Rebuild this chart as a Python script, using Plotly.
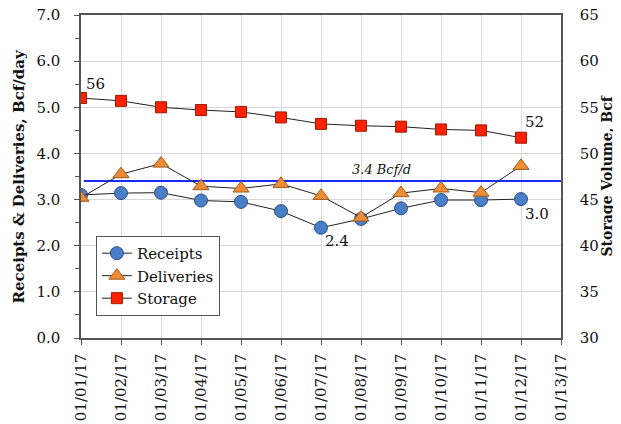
import plotly.graph_objects as go

x_labels = ["01/01/17", "01/02/17", "01/03/17", "01/04/17", "01/05/17", "01/06/17",
            "01/07/17", "01/08/17", "01/09/17", "01/10/17", "01/11/17", "01/12/17", "01/13/17"]
x_pos = list(range(1, 14))
x_data = x_pos[:12]

receipts = [3.10, 3.14, 3.15, 2.98, 2.95, 2.75, 2.39, 2.58, 2.81, 2.99, 2.99, 3.01]
deliveries = [3.04, 3.55, 3.78, 3.29, 3.24, 3.34, 3.08, 2.61, 3.14, 3.24, 3.15, 3.73]
storage = [56.0, 55.7, 55.0, 54.7, 54.5, 53.9, 53.2, 53.0, 52.9, 52.6, 52.5, 51.7]
avg_line = 3.4

FONT = "DejaVu Serif"

fig = go.Figure()

fig.add_trace(go.Scatter(
    x=[1.07, x_pos[-1]], y=[avg_line, avg_line], mode="lines",
    line=dict(color="#1a2bff", width=2), showlegend=False, hoverinfo="skip"))

fig.add_trace(go.Scatter(
    x=x_data, y=receipts, name="Receipts", mode="lines+markers",
    line=dict(color="#222222", width=1),
    marker=dict(symbol="circle", size=13, color="#4a7ec9",
                line=dict(color="#2c4f86", width=1))))

fig.add_trace(go.Scatter(
    x=x_data, y=deliveries, name="Deliveries", mode="lines+markers",
    line=dict(color="#222222", width=1),
    marker=dict(symbol="triangle-up", size=14, color="#f08c35",
                line=dict(color="#9a5a1c", width=1))))

fig.add_trace(go.Scatter(
    x=x_data, y=storage, name="Storage", mode="lines+markers", yaxis="y2",
    line=dict(color="#222222", width=1),
    marker=dict(symbol="square", size=11, color="#ff2200",
                line=dict(color="#9a1a00", width=1))))

ann_font = dict(family=FONT, size=15, color="#111111")
annotations = [
    dict(x=x_data[0], y=storage[0], xref="x", yref="y2", text=f"{storage[0]:.0f}",
         showarrow=False, xanchor="left", yanchor="bottom", xshift=3, yshift=3, font=ann_font),
    dict(x=x_data[-1], y=storage[-1], xref="x", yref="y2", text=f"{storage[-1]:.0f}",
         showarrow=False, xanchor="left", yanchor="bottom", xshift=2, yshift=5, font=ann_font),
    dict(x=x_data[6], y=receipts[6], xref="x", yref="y", text=f"{receipts[6]:.1f}",
         showarrow=False, xanchor="left", yanchor="top", xshift=2, yshift=-2, font=ann_font),
    dict(x=x_data[-1], y=receipts[-1], xref="x", yref="y", text=f"{receipts[-1]:.1f}",
         showarrow=False, xanchor="left", yanchor="top", xshift=2, yshift=-4, font=ann_font),
    dict(x=8.5, y=avg_line, xref="x", yref="y", text=f"<i>{avg_line} Bcf/d</i>",
         showarrow=False, xanchor="center", yanchor="bottom", yshift=2,
         font=dict(family=FONT, size=13, color="#111111")),
    dict(x=0, y=0.5, xref="paper", yref="paper", text="<b>Receipts & Deliveries, Bcf/day</b>",
         textangle=-90, showarrow=False, xanchor="center", yanchor="middle", xshift=-63,
         font=dict(family=FONT, size=15, color="#111111")),
    dict(x=1, y=0.5, xref="paper", yref="paper", text="<b>Storage Volume, Bcf</b>",
         textangle=-90, showarrow=False, xanchor="center", yanchor="middle", xshift=45,
         font=dict(family=FONT, size=14, color="#111111")),
]

# page body has an 8px margin, so the figure is sized/placed to compensate
fig.update_layout(
    width=613, height=416,
    margin=dict(l=73, r=60, t=7, b=86, autoexpand=False),
    paper_bgcolor="white", plot_bgcolor="white",
    font=dict(family=FONT, size=15, color="#111111"),
    showlegend=True,
    legend=dict(x=0.031, y=0.316, xanchor="left", yanchor="top",
                bordercolor="#555555", borderwidth=1, bgcolor="white",
                font=dict(family=FONT, size=15), itemwidth=30, tracegroupgap=0),
    annotations=annotations,
    xaxis=dict(range=[1, 13], tickvals=x_pos, ticktext=x_labels, tickangle=-90,
               showgrid=True, gridcolor="#d9d9d9", gridwidth=1,
               ticks="outside", ticklen=5, tickcolor="#555555",
               showline=True, linecolor="#555555", linewidth=1.5, mirror=True,
               tickfont=dict(family=FONT, size=15), zeroline=False, automargin=False,
               ticklabelstandoff=3, ticklabeloverflow="allow"),
    yaxis=dict(range=[0, 7], dtick=1, tickformat=".1f",
               showgrid=True, gridcolor="#d9d9d9", gridwidth=1,
               ticks="outside", ticklen=5, tickcolor="#555555",
               minor=dict(dtick=0.5, ticks="outside", ticklen=4, tickcolor="#555555", showgrid=False),
               showline=True, linecolor="#555555", linewidth=1.5, mirror=True,
               tickfont=dict(family=FONT, size=15), zeroline=False, automargin=False,
               ticklabelstandoff=11, ticklabeloverflow="allow"),
    yaxis2=dict(range=[30, 65], dtick=5, overlaying="y", side="right",
                showgrid=False, ticks="", showline=True, linecolor="#555555", linewidth=1.5,
                tickfont=dict(family=FONT, size=15), zeroline=False, automargin=False,
                ticklabelstandoff=14, ticklabeloverflow="allow"),
)

fig.write_html("out.html")
